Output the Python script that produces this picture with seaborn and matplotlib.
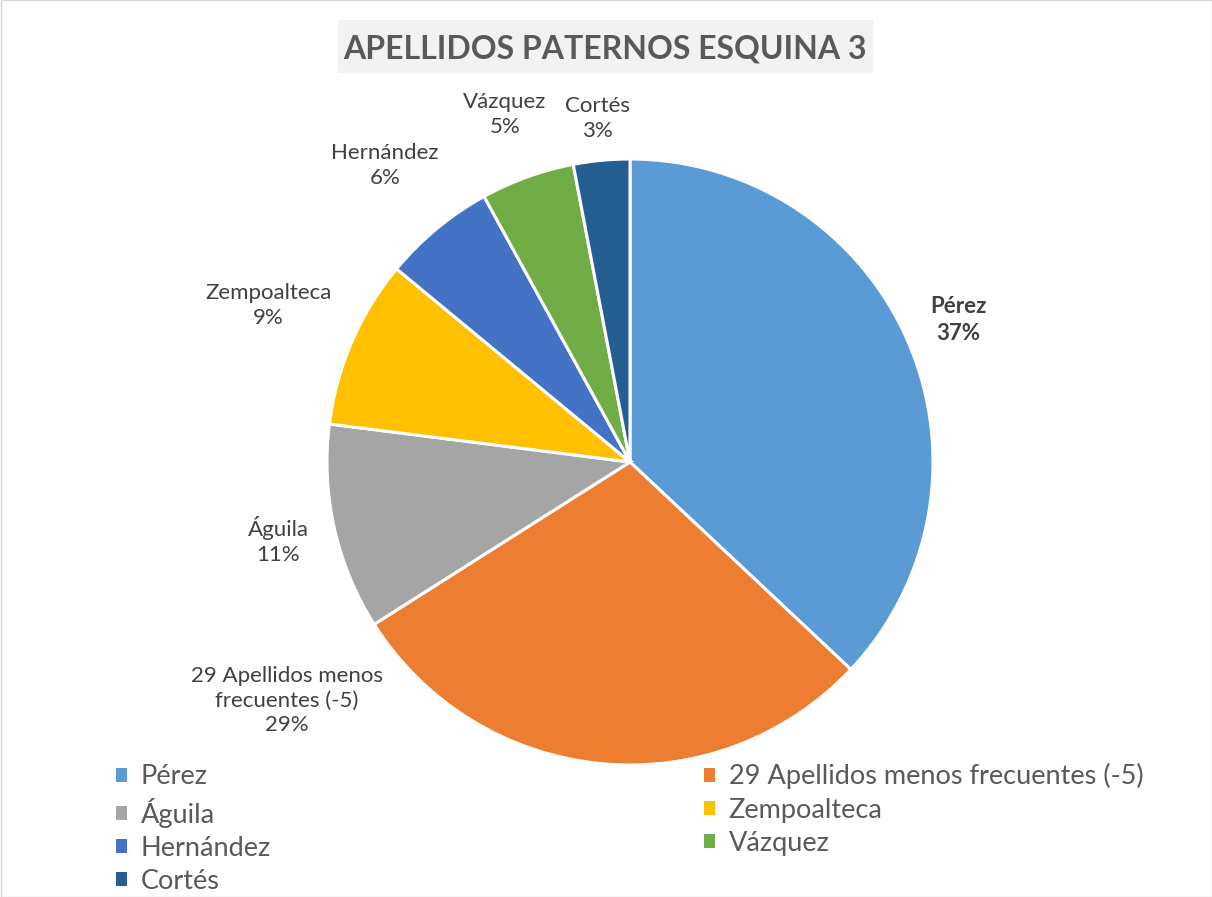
import matplotlib
matplotlib.use("Agg")
import matplotlib.pyplot as plt
import seaborn as sns
import numpy as np
from matplotlib.patches import Rectangle, Patch

apellidos = ["Pérez", "29 Apellidos menos frecuentes (-5)", "Águila", "Zempoalteca",
             "Hernández", "Vázquez", "Cortés"]
etiquetas = ["Pérez", "29 Apellidos menos\nfrecuentes (-5)", "Águila", "Zempoalteca",
             "Hernández", "Vázquez", "Cortés"]
cantidades = [37, 29, 11, 9, 6, 5, 3]
colores = ["#5B9BD5", "#ED7D31", "#A5A5A5", "#FFC000", "#4472C4", "#70AD47", "#255E91"]

# colocación de etiquetas: distancia (en radios) y giro extra (grados) respecto al centro de la porción
distancias = [1.18, 1.38, 1.19, 1.30, 1.27, 1.22, 1.14]
giros = [0, -49.8, 0, 0, 0, 0, 0]

sns.set_theme(style="white")
plt.rcParams["font.family"] = ["Lato", "DejaVu Sans"]

W, H = 1212, 897
cx, cy, R = 630, 462, 303
fig = plt.figure(figsize=(W / 100, H / 100), dpi=100)
ax = fig.add_axes([0, 0, 1, 1])

wedges, _ = ax.pie(cantidades, colors=colores, startangle=90, counterclock=False,
                   radius=1, wedgeprops=dict(edgecolor="white", linewidth=2.2))
ax.set_xlim(-cx / R, (W - cx) / R)
ax.set_ylim(-(H - cy) / R, cy / R)
ax.axis("off")

total = sum(cantidades)
for w, lab, val, d, g in zip(wedges, etiquetas, cantidades, distancias, giros):
    ang = np.deg2rad((w.theta1 + w.theta2) / 2 + g)
    pct = f"{round(val / total * 100)}%"
    bold = lab == "Pérez"
    ax.text(d * np.cos(ang), d * np.sin(ang), f"{lab}\n{pct}", ha="center", va="center",
            fontsize=16, color="#404040", linespacing=1.3,
            fontweight="bold" if bold else "normal")

# fondo gris del título
fig.patches.append(Rectangle((338 / W, 1 - 73 / H), 535 / W, 53 / H, transform=fig.transFigure,
                             facecolor="#F2F2F2", edgecolor="none", zorder=0))
fig.text(605 / W, 1 - 49 / H, "APELLIDOS PATERNOS ESQUINA 3", ha="center", va="center",
         fontsize=23, fontweight="bold", color="#595959")

# leyenda en dos columnas (orden por filas como en Excel)
orden = [0, 2, 4, 6, 1, 3, 5]
handles = [Patch(facecolor=colores[i], edgecolor="none") for i in orden]
leg = fig.legend(handles, [apellidos[i] for i in orden], ncol=2, loc="upper left",
                 bbox_to_anchor=(92 / W, 1 - 739 / H), frameon=False, fontsize=19.5,
                 handlelength=0.4, handleheight=0.4, handletextpad=0.5,
                 columnspacing=16.0, labelspacing=0.3, labelcolor="#595959")

fig.patches.append(Rectangle((0.5 / W, 0.5 / H), 1 - 1 / W, 1 - 1 / H, transform=fig.transFigure,
                             fill=False, edgecolor="#D9D9D9", linewidth=1))

fig.savefig("out.png", dpi=100, facecolor="white")
